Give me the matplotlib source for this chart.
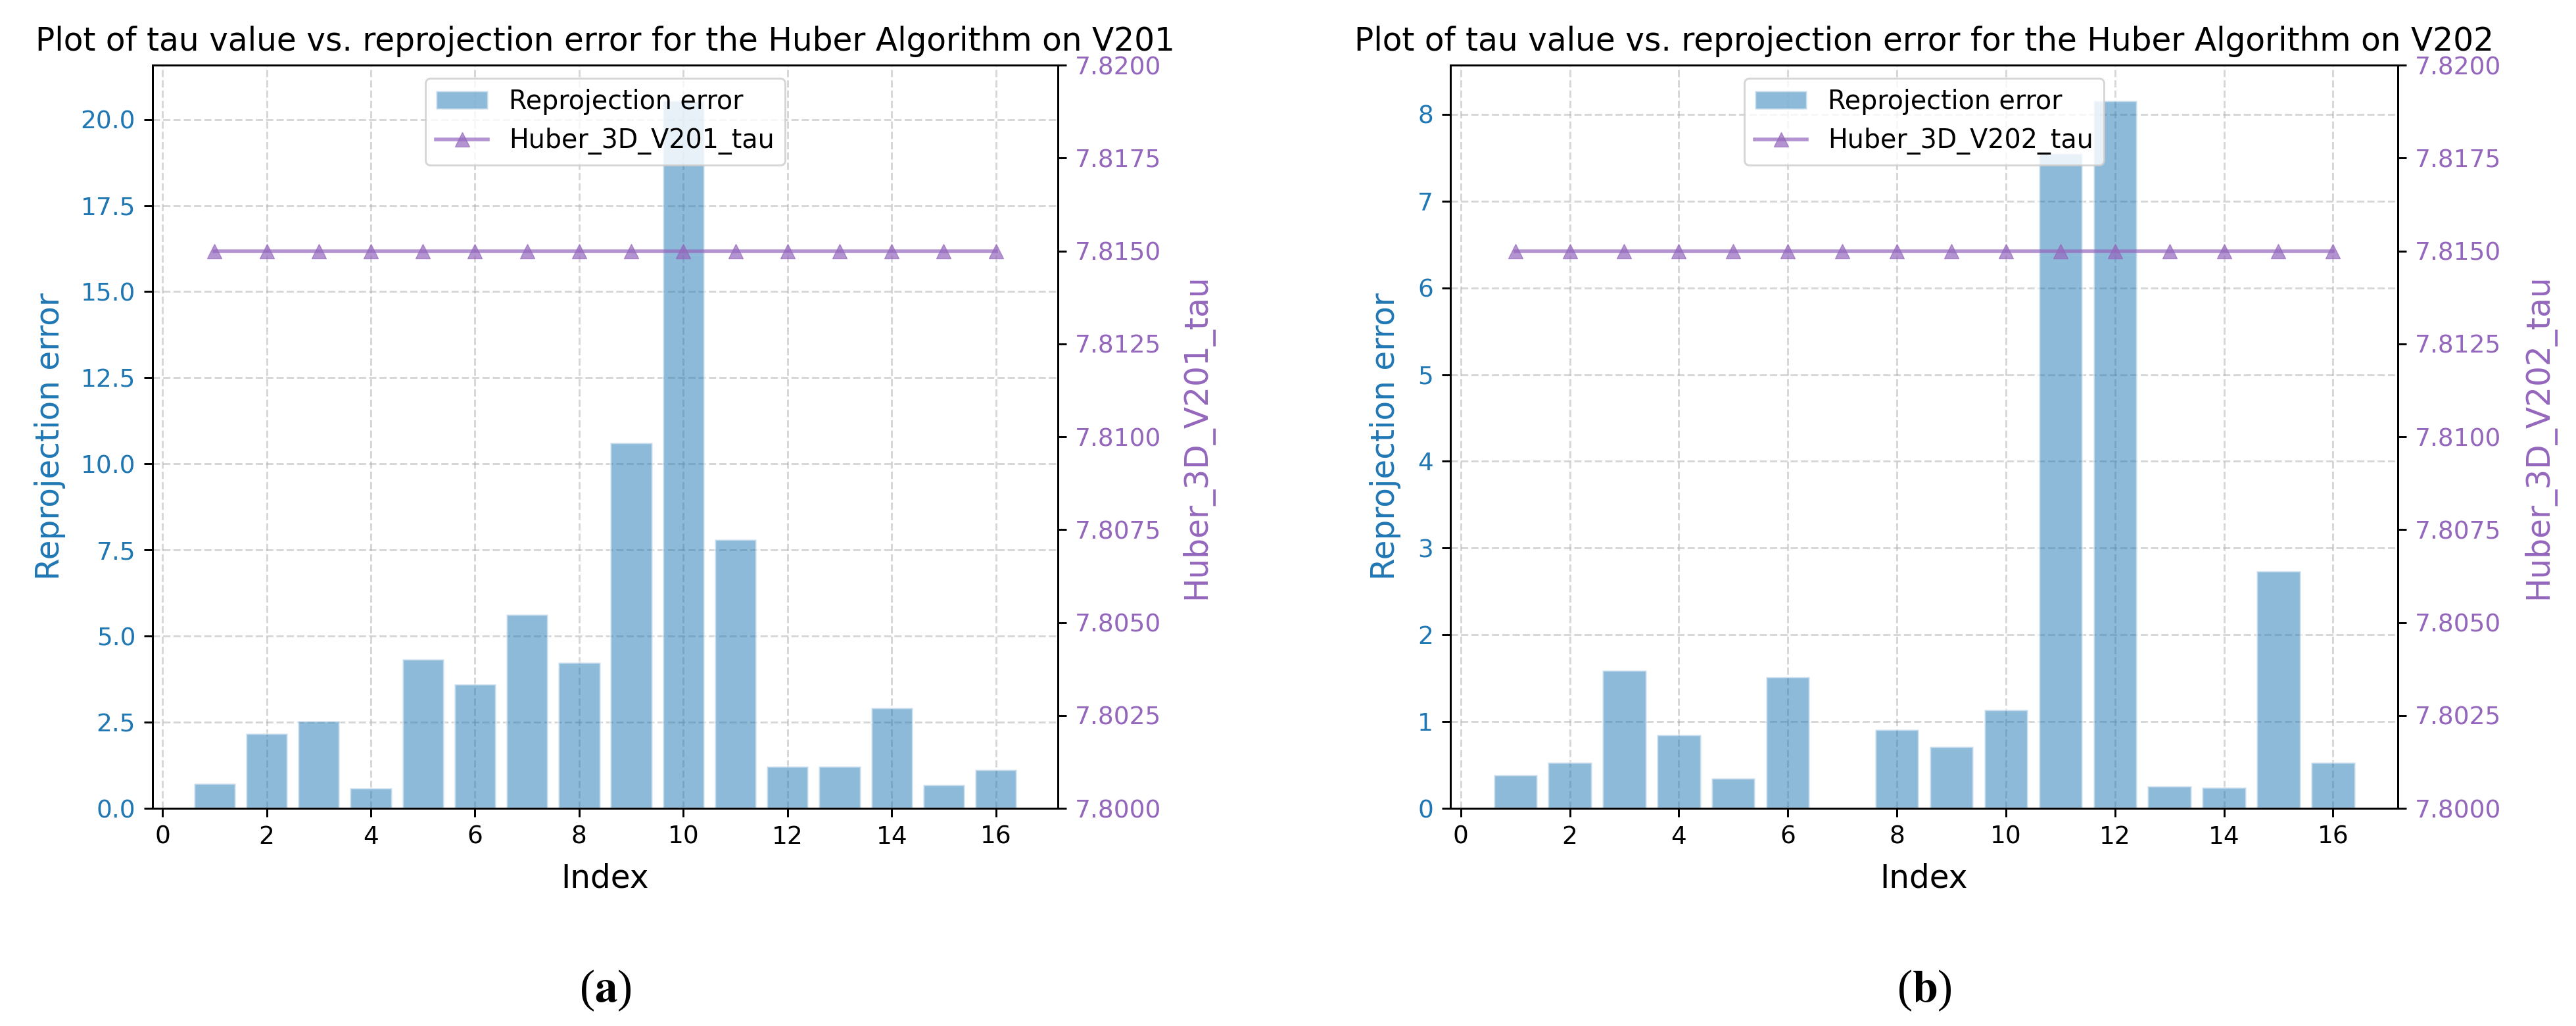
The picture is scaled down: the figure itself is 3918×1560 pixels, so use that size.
import matplotlib
matplotlib.use("Agg")
import matplotlib.pyplot as plt
from matplotlib.ticker import FormatStrFormatter

plt.rcParams['font.family'] = ['DejaVu Sans']
plt.rcParams['mathtext.fontset'] = 'stix'

# ---- data ----
index = list(range(1, 17))
err_v201 = [0.72, 2.18, 2.54, 0.60, 4.33, 3.60, 5.64, 4.23, 10.62, 20.55,
            7.81, 1.23, 1.23, 2.93, 0.68, 1.13]
err_v202 = [0.39, 0.53, 1.59, 0.85, 0.35, 1.52, 0.01, 0.91, 0.71, 1.14,
            7.55, 8.16, 0.26, 0.24, 2.74, 0.53]
tau_v201 = [7.815] * 16
tau_v202 = [7.815] * 16
titles = ["Plot of tau value vs. reprojection error for the Huber Algorithm on V201",
          "Plot of tau value vs. reprojection error for the Huber Algorithm on V202"]
tau_labels = ["Huber_3D_V201_tau", "Huber_3D_V202_tau"]
captions = ["a", "b"]
right_ticks = [7.8000, 7.8025, 7.8050, 7.8075, 7.8100, 7.8125, 7.8150, 7.8175, 7.8200]

W, H = 3918, 1560
fig = plt.figure(figsize=(W / 100, H / 100), dpi=100)

S = 2.66
TICK = 27
LAB = 35
TIT = 35
LEG = 28.5

BLUE = '#1f77b4'
PURPLE = '#9467bd'

boxes = [(232, 1609), (2206, 3647)]
top_px, bot_px = 99, 1229
left_pads = [16, 18]
right_pads = [21, 23]

datasets = [(err_v201, tau_v201), (err_v202, tau_v202)]

for i, ((l, r), (err, tau)) in enumerate(zip(boxes, datasets)):
    ax = fig.add_axes([l / W, 1 - bot_px / H, (r - l) / W, (bot_px - top_px) / H])
    bars = ax.bar(index, err, width=0.8, color=BLUE, alpha=0.5,
                  edgecolor='white', linewidth=2.5, label='Reprojection error', zorder=2)
    ax.set_xlabel('Index', fontsize=LAB, labelpad=15)
    ax.set_ylabel('Reprojection error', fontsize=LAB, color=BLUE, labelpad=left_pads[i])
    ax.tick_params(axis='y', labelcolor=BLUE)
    ax.tick_params(axis='both', labelsize=TICK, width=0.8 * S, length=3.5 * S, pad=3.5 * S)
    ax.grid(True, linestyle='--', color='#b0b0b0', alpha=0.5, linewidth=0.8 * S, zorder=0)
    ax.set_axisbelow(True)
    for sp in ax.spines.values():
        sp.set_linewidth(0.8 * S)
    ax.set_xticks([0, 2, 4, 6, 8, 10, 12, 14, 16])
    ax.set_title(titles[i], fontsize=TIT, pad=6 * S)

    ax2 = ax.twinx()
    ln, = ax2.plot(index, tau, color=PURPLE, alpha=0.7, marker='^',
                   markersize=6 * S, linewidth=1.5 * S, label=tau_labels[i])
    ax2.set_ylim(7.80, 7.82)
    ax2.set_yticks(right_ticks)
    ax2.yaxis.set_major_formatter(FormatStrFormatter('%.4f'))
    ax2.set_ylabel(tau_labels[i], fontsize=LAB, color=PURPLE, labelpad=right_pads[i])
    ax2.tick_params(axis='y', labelcolor=PURPLE, labelsize=TICK,
                    width=0.8 * S, length=3.5 * S, pad=3.5 * S)
    for sp in ax2.spines.values():
        sp.set_linewidth(0.8 * S)

    leg = ax2.legend([bars, ln], ['Reprojection error', tau_labels[i]],
                     loc='upper center', fontsize=LEG, framealpha=0.8,
                     borderpad=0.4, handlelength=2.0)
    leg.get_frame().set_linewidth(0.8 * S)

    cx = (l + r) / 2 / W
    fig.text(cx, 1 - 1506 / H, '(' + r'$\mathbf{' + captions[i] + '}$' + ')',
             ha='center', va='center', fontsize=50, family='Liberation Serif')

fig.savefig('out.png', dpi=100)
